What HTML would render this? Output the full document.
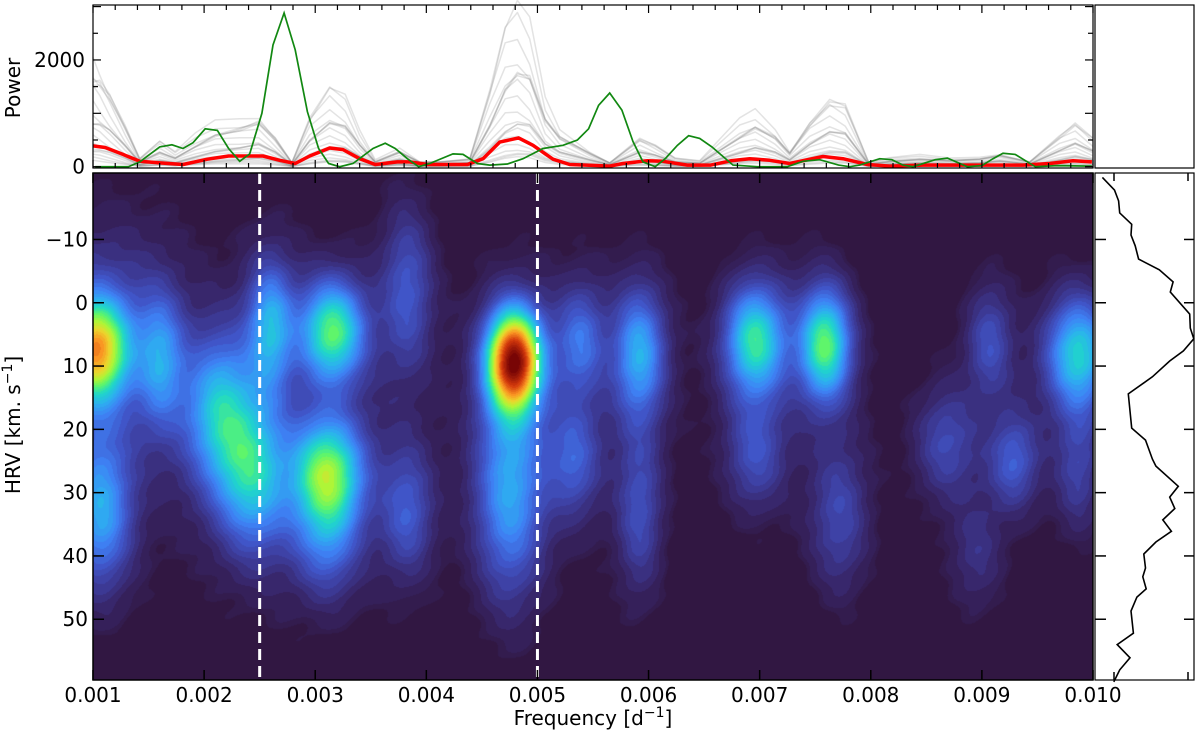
<!DOCTYPE html>
<html><head><meta charset="utf-8">
<style>
html,body{margin:0;padding:0;background:#fff;width:1200px;height:742px;overflow:hidden}
#heat{position:absolute;left:93px;top:173px;width:1000px;height:507px}
#ov{position:absolute;left:0;top:0}
text{font-family:"DejaVu Sans","Liberation Sans",sans-serif;fill:#000}
</style></head><body>
<canvas id="heat" width="1000" height="507"></canvas>
<svg id="ov" width="1200" height="742" viewBox="0 0 1200 742">
<g id="topPanel"></g>
<g id="mainPanel"></g>
<g id="rightPanel"></g>
</svg>
<script>
// ---- data ----
const heatBlobFreq = [0.00103,0.00105,0.00107,0.00161,0.00214,0.00244,0.00260,0.00316,0.00311,0.00311,0.00383,0.00383,0.00479,0.00475,0.00539,0.00533,0.00592,0.00592,0.00696,0.00696,0.00759,0.00772,0.00907,0.00867,0.00929,0.00987,0.00987,0.00895];
const heatBlobHrv  = [7.5,5,33,9,17,27,4,4.5,27,38,-2,33,9.2,30,6,25,8,33,6,24,6.6,34,6,22,25,8,26,40];
const heatBlobAmp  = [0.6,0.1,0.3,0.24,0.32,0.34,0.3,0.46,0.5,0.17,0.17,0.17,0.9,0.3,0.2,0.17,0.31,0.15,0.43,0.15,0.47,0.14,0.15,0.14,0.17,0.38,0.12,0.08];
const heatBlobSf   = [0.0002,0.0004,0.00019,0.00014,0.00022,0.00022,0.00014,0.0002,0.00022,0.0002,0.00016,0.00016,0.00017,0.00021,0.00015,0.00016,0.00016,0.00014,0.00019,0.00018,0.00016,0.00018,0.00014,0.00019,0.00015,0.0002,0.00014,0.00016];
const heatBlobSv   = [5.5,12,8,7,8,8,7,5.5,6,6,9,7,5.5,11,6,6,7,9,6,6,6,8,6,6,5,6,7,6];

const greyFreq = [0.00100,0.00106,0.00115,0.00129,0.00142,0.00160,0.00174,0.00192,0.00210,0.00232,0.00249,0.00264,0.00279,0.00295,0.00313,0.00327,0.00340,0.00354,0.00376,0.00394,0.00412,0.00439,0.00457,0.00471,0.00482,0.00493,0.00507,0.00520,0.00547,0.00565,0.00592,0.00606,0.00624,0.00646,0.00682,0.00696,0.00714,0.00727,0.00745,0.00763,0.00777,0.00798,0.00817,0.00844,0.00871,0.00898,0.00916,0.00943,0.00970,0.00984,0.01000];
const greyPower = [2050,1900,1500,800,150,450,250,550,800,900,1000,600,80,900,1400,1200,600,120,350,100,100,150,1400,2450,2750,2450,1200,700,300,80,550,400,150,100,800,1000,700,300,900,1300,1150,80,150,200,150,180,250,100,600,800,500];
const greyScales = [1,0.93,0.86,0.79,0.72,0.65,0.58,0.52,0.46,0.41,0.36,0.31,0.27,0.23,0.19,0.16,0.13,0.1,0.08,0.06];

const greenFreq = [0.00102,0.00132,0.00142,0.00160,0.00171,0.00181,0.00190,0.00201,0.00212,0.00222,0.00232,0.00241,0.00252,0.00262,0.00272,0.00282,0.00293,0.00303,0.00312,0.00322,0.00334,0.00352,0.00363,0.00372,0.00383,0.00393,0.00403,0.00424,0.00433,0.00446,0.00457,0.00473,0.00487,0.00505,0.00523,0.00536,0.00546,0.00555,0.00565,0.00576,0.00586,0.00595,0.00606,0.00615,0.00626,0.00636,0.00646,0.00657,0.00667,0.00676,0.00698,0.00725,0.00739,0.00754,0.00771,0.00781,0.00790,0.00808,0.00819,0.00829,0.00838,0.00858,0.00869,0.00887,0.00900,0.00910,0.00919,0.00930,0.00948,0.00968,0.00999];
const greenPower = [0,0,90,370,410,340,450,710,680,340,100,240,1000,2280,2880,2190,1030,340,60,0,60,340,440,340,150,0,60,240,230,60,30,50,150,340,400,500,710,1150,1380,1060,470,90,0,150,400,580,530,370,190,30,0,0,100,130,30,0,30,150,130,30,0,130,160,0,20,150,250,230,0,20,10];

const redFreq = [0.00100,0.00111,0.00127,0.00142,0.00160,0.00181,0.00203,0.00222,0.00253,0.00268,0.00282,0.00295,0.00313,0.00325,0.00340,0.00354,0.00374,0.00385,0.00401,0.00437,0.00451,0.00466,0.00483,0.00496,0.00514,0.00529,0.00555,0.00565,0.00577,0.00599,0.00613,0.00635,0.00656,0.00674,0.00691,0.00709,0.00727,0.00757,0.00775,0.00797,0.00817,0.00847,0.00892,0.00937,0.00961,0.00982,0.00999];
const redPower = [390,360,230,100,70,40,140,200,200,120,60,200,350,320,150,40,90,90,40,40,150,460,540,400,140,40,20,10,60,110,100,30,30,110,150,120,60,190,150,40,10,30,30,30,60,110,90];

const profHrv = [-19.8,-17.8,-16.1,-14.2,-12.4,-10.7,-9.0,-6.9,-5.2,-3.3,-1.7,1.8,4.0,5.7,7.6,9.2,11.7,14.4,19.8,21.7,24.7,25.8,29.0,30.7,32.5,34.3,36.1,37.8,39.7,41.9,43.3,45.2,46.5,48.7,52.2,54.0,56.1,58.0,59.9];
const profVal = [8.4,20.5,24.6,25.7,37.7,37,41.2,44.6,65.3,79.1,76.3,95.7,96.3,99.8,89.4,75.7,58.4,34.3,37.7,51.5,58.4,61.9,84.3,75.7,80.8,68.8,77.4,61.9,49.8,51.5,48.8,52.2,42.9,37,39.4,23.2,36,25.7,19.8];

const freqTicks = [0.001,0.002,0.003,0.004,0.005,0.006,0.007,0.008,0.009,0.010];
const freqTickLabels = ["0.001","0.002","0.003","0.004","0.005","0.006","0.007","0.008","0.009","0.010"];
const hrvTicks = [-10,0,10,20,30,40,50];
const powerTicks = [0,2000];
const dashedFreqs = [0.0025,0.005];

// ---- scales ----
const X0=93, X1=1093;
const fx = f => X0 + (f-0.001)/0.009*(X1-X0);
const HY0=173, HY1=680, HV0=-20.5, HV1=59.6;
const hy = v => HY0 + (v-HV0)/(HV1-HV0)*(HY1-HY0);
const PY0=5, PY1=168, PMAX=3030, PMIN=-25;
const py = p => PY1 - (p-PMIN)/(PMAX-PMIN)*(PY1-PY0);
const RX0=1094, RX1=1194;
const rx = v => RX0 + v/100*(RX1-RX0);

const NS='http://www.w3.org/2000/svg';
function mk(tag, attrs, parent){const e=document.createElementNS(NS,tag);for(const k in attrs)e.setAttribute(k,attrs[k]);parent.appendChild(e);return e;}

// ---- heatmap ----
const cstops=[[0,[49,23,66]],[0.06,[54,34,95]],[0.12,[60,55,145]],[0.2,[64,85,200]],[0.28,[62,130,245]],[0.36,[45,175,240]],[0.44,[30,215,200]],[0.52,[90,245,110]],[0.6,[175,245,55]],[0.67,[235,215,45]],[0.75,[250,150,35]],[0.86,[210,55,12]],[1.0,[120,5,5]]];
function cmap(v){v=Math.max(0,Math.min(1,v));for(let i=1;i<cstops.length;i++){if(v<=cstops[i][0]){const a=cstops[i-1],b=cstops[i];const t=(v-a[0])/(b[0]-a[0]);return [0,1,2].map(k=>Math.round(a[1][k]+(b[1][k]-a[1][k])*t));}}return cstops[cstops.length-1][1];}
(function(){
  const c=document.getElementById('heat');const ctx=c.getContext('2d');
  const W=c.width,H=c.height;const img=ctx.createImageData(W,H);
  const fxs=[],vys=[];
  for(let i=0;i<W;i++)fxs.push(0.001+(i+0.5)/W*0.009);
  for(let j=0;j<H;j++)vys.push(HV0+(j+0.5)/H*(HV1-HV0));
  const n=heatBlobFreq.length;
  const gx=[],gy=[],hx=[],hyy=[];
  for(let b=0;b<n;b++){
    gx.push(fxs.map(f=>Math.exp(-0.5*Math.pow((f-heatBlobFreq[b])/heatBlobSf[b],2))));
    gy.push(vys.map(v=>Math.exp(-0.5*Math.pow((v-heatBlobHrv[b])/heatBlobSv[b],2))));
    hx.push(fxs.map(f=>Math.exp(-0.5*Math.pow((f-heatBlobFreq[b])/(heatBlobSf[b]*1.9),2))));
    hyy.push(vys.map(v=>Math.exp(-0.5*Math.pow((v-heatBlobHrv[b])/(heatBlobSv[b]*2.2),2))));
  }
  for(let j=0;j<H;j++){for(let i=0;i<W;i++){
    let s=0,h=0;for(let b=0;b<n;b++){s+=heatBlobAmp[b]*gx[b][i]*gy[b][j];h+=Math.sqrt(heatBlobAmp[b])*hx[b][i]*hyy[b][j];}
    let v=s+0.075*Math.min(h,1.2)+0.01*Math.sin(i*0.11+j*0.07)*Math.sin(j*0.13);
    if(v<0.04)v=0;
    v=Math.floor(v*40)/40;
    const col=cmap(v);const p=(j*W+i)*4;
    img.data[p]=col[0];img.data[p+1]=col[1];img.data[p+2]=col[2];img.data[p+3]=255;}}
  ctx.putImageData(img,0,0);
})();

// ---- top power panel ----
const topG=document.getElementById('topPanel');
let el=mk('rect',{x:X0,y:PY0,width:X1-X0,height:PY1-PY0,fill:'#fff'},topG);


const gGrey=mk('g',{},topG);


greyScales.forEach((s,k)=>{
  const d=greyFreq.map((f,i)=>(i?'L':'M')+fx(f).toFixed(1)+','+py(greyPower[i]*s*(1-0.15*Math.sin(i*0.7+k))).toFixed(1)).join('');
  const p=mk('path',{d:d,fill:'none',stroke:'#808080','stroke-width':1.5,'stroke-opacity':0.22,'stroke-linejoin':'round'},gGrey);
  
  
});
el=mk('path',{d:redFreq.map((f,i)=>(i?'L':'M')+fx(f).toFixed(1)+','+py(redPower[i]).toFixed(1)).join(''),fill:'none',stroke:'#ff0000','stroke-width':3.5,'stroke-linejoin':'round'},topG);


el=mk('path',{d:greenFreq.map((f,i)=>(i?'L':'M')+fx(f).toFixed(1)+','+py(greenPower[i]).toFixed(1)).join(''),fill:'none',stroke:'#118811','stroke-width':1.7},topG);


el=mk('rect',{x:X0,y:PY0,width:X1-X0,height:PY1-PY0,fill:'none',stroke:'#000','stroke-width':1.2},topG);


for(let k=0;k<=45;k++){
  const f=0.001+k*0.0002;
  const major=(k%5===0);const L=major?8:5;const x=fx(f);
  mk('line',{x1:x,x2:x,y1:PY0,y2:PY0+L,stroke:'#000','stroke-width':1.2},topG);
  mk('line',{x1:x,x2:x,y1:PY1,y2:PY1-L,stroke:'#000','stroke-width':1.2},topG);
}
for(let p=0;p<=3000;p+=500){const y=py(p);const L=(p%1000===0)?8:5;
  mk('line',{x1:X0,x2:X0+L,y1:y,y2:y,stroke:'#000','stroke-width':1.2},topG);
  mk('line',{x1:X1,x2:X1-L,y1:y,y2:y,stroke:'#000','stroke-width':1.2},topG);}
powerTicks.forEach(p=>{const t=mk('text',{x:X0-8,y:py(p)+7,'text-anchor':'end','font-size':20},topG);t.textContent=String(p);
  
  });
el=mk('text',{x:0,y:0,transform:'translate(20,88) rotate(-90)','text-anchor':'middle','font-size':20},topG);el.textContent='Power';


el=mk('rect',{x:1095,y:PY0,width:99,height:PY1-PY0,fill:'none',stroke:'#000','stroke-width':1.2},topG);



// ---- main axes ----
const mainG=document.getElementById('mainPanel');
dashedFreqs.forEach(f=>{const l=mk('line',{x1:fx(f),x2:fx(f),y1:HY0,y2:HY1,stroke:'#fff','stroke-width':3,'stroke-dasharray':'11,6'},mainG);
  
  });
el=mk('rect',{x:X0,y:HY0,width:X1-X0,height:HY1-HY0,fill:'none',stroke:'#000','stroke-width':1.5},mainG);


freqTicks.forEach((f,i)=>{const x=fx(f);
  mk('line',{x1:x,x2:x,y1:HY0,y2:HY0+10,stroke:'#000','stroke-width':1.5},mainG);
  mk('line',{x1:x,x2:x,y1:HY1,y2:HY1-10,stroke:'#000','stroke-width':1.5},mainG);
  const t=mk('text',{x:x,y:702,'text-anchor':'middle','font-size':20},mainG);t.textContent=freqTickLabels[i];
  
  });
hrvTicks.forEach(v=>{const y=hy(v);
  mk('line',{x1:X0,x2:X0+11,y1:y,y2:y,stroke:'#000','stroke-width':1.5},mainG);
  const t=mk('text',{x:X0-5,y:y+7,'text-anchor':'end','font-size':20},mainG);t.textContent=String(v).replace('-','\u2212');
  
  });
el=mk('text',{x:593,y:725,'text-anchor':'middle','font-size':20},mainG);
el.textContent='Frequency [d';
let ts=mk('tspan',{'font-size':14,dy:-8},el);ts.textContent='\u22121';
ts=mk('tspan',{dy:8},el);ts.textContent=']';


el=mk('text',{x:0,y:0,transform:'translate(20,425) rotate(-90)','text-anchor':'middle','font-size':20},mainG);
el.textContent='HRV [km. s';
ts=mk('tspan',{'font-size':14,dy:-8},el);ts.textContent='\u22121';
ts=mk('tspan',{dy:8},el);ts.textContent=']';



// ---- right profile ----
const rightG=document.getElementById('rightPanel');
el=mk('path',{d:profHrv.map((v,i)=>(i?'L':'M')+rx(profVal[i]).toFixed(1)+','+hy(v).toFixed(1)).join(''),fill:'none',stroke:'#000','stroke-width':1.6},rightG);


el=mk('rect',{x:RX0+1,y:HY0,width:RX1-RX0-1,height:HY1-HY0,fill:'none',stroke:'#000','stroke-width':1.2},rightG);


hrvTicks.forEach(v=>{const y=hy(v);
  mk('line',{x1:RX0+1,x2:RX0+12,y1:y,y2:y,stroke:'#000','stroke-width':1.5},rightG);
  mk('line',{x1:RX1,x2:RX1-10,y1:y,y2:y,stroke:'#000','stroke-width':1.5},rightG);});
[1114,1188].forEach(x=>{
  mk('line',{x1:x,x2:x,y1:HY0,y2:HY0+8,stroke:'#000','stroke-width':1.5},rightG);
  mk('line',{x1:x,x2:x,y1:HY1,y2:HY1-8,stroke:'#000','stroke-width':1.5},rightG);});
</script>
</body></html>
